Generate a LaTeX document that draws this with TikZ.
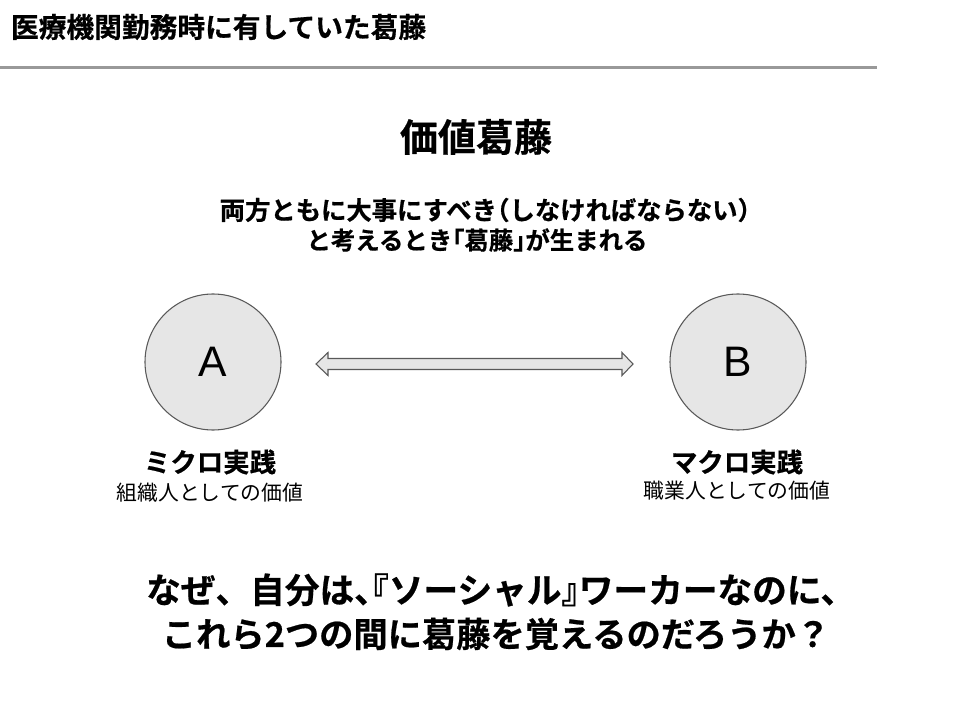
\documentclass[tikz,border=0pt]{standalone}
\usepackage{fontspec}
\setmainfont{Noto Sans CJK JP}
\newfontfamily\jpb[FakeBold=0.6]{Noto Sans CJK JP Bold}
\newfontfamily\jpbh[RawFeature=+halt,FakeBold=0.6]{Noto Sans CJK JP Bold}
\newfontfamily\latin{Liberation Sans}
\definecolor{circfill}{HTML}{E6E6E6}
\definecolor{circdraw}{HTML}{595959}
\definecolor{rulegray}{HTML}{999999}
\begin{document}
\begin{tikzpicture}[x=0.75pt,y=-0.75pt,
  every node/.style={inner sep=0pt,outer sep=0pt},
  circ/.style={circle,draw=circdraw,line width=0.8pt,fill=circfill,minimum size=136*0.75pt,font=\latin\fontsize{32}{36}\selectfont},
  lab/.style={font=\jpb\fontsize{19.8}{22}\selectfont},
  sublab/.style={font=\fontsize{15.6}{18}\selectfont},
  arrowshape/.style={draw=circdraw,line width=0.8pt,fill=circfill,line join=miter}]
\useasboundingbox (0,0) rectangle (960,720);
\fill[white] (0,0) rectangle (960,720);
% title
\node[anchor=west,font=\jpb\fontsize{20.8}{24}\selectfont] (title) at (11,27) {医療機関勤務時に有していた葛藤};
\coordinate (ruleL) at (0,68);
\coordinate (ruleR) at (877,68);
\draw[rulegray,line width=2.25pt] (ruleL) -- (ruleR);
% heading
\node[font=\jpb\fontsize{28.5}{32}\selectfont] (head) at (476,137) {価値葛藤};
\node[font=\jpbh\fontsize{19}{22.5}\selectfont] (sub1) at (485,210) {両方ともに大事にすべき（しなければならない）};
\node[font=\jpbh\fontsize{18.3}{22.5}\selectfont] (sub2) at (477,240) {と考えるとき「葛藤」が生まれる};
% circles
\node[circ] (A) at (213,362) {A};
\node[circ] (B) at (738,362) {B};
% double arrow
\coordinate (la) at (316,364);
\coordinate (rb) at (633,364);
\draw[arrowshape] (la) -- ([shift={(12,-11.5)}]la) -- ([shift={(12,-5.5)}]la) -- ([shift={(-11,-5.5)}]rb) -- ([shift={(-11,-11.5)}]rb) -- (rb) -- ([shift={(-11,11.5)}]rb) -- ([shift={(-11,5.5)}]rb) -- ([shift={(12,5.5)}]la) -- ([shift={(12,11.5)}]la) -- cycle;
% labels
\node[lab] (Al) at (210,462) {ミクロ実践};
\node[sublab] (As) at (210,493) {組織人としての価値};
\node[lab] (Bl) at (737,462) {マクロ実践};
\node[sublab] (Bs) at (737,491) {職業人としての価値};
% bottom question
\node[font=\jpbh\fontsize{26}{33.75}\selectfont] (q1) at (492,590) {なぜ、\hspace{0.5em}自分は、『ソーシャル』ワーカーなのに、};
\node[font=\jpbh\fontsize{25.7}{33.75}\selectfont] (q2) at (496,634) {これら2つの間に葛藤を覚えるのだろうか？};
\end{tikzpicture}
\end{document}
